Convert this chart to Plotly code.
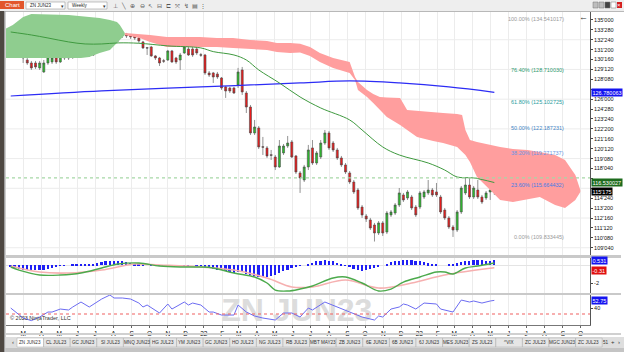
import datetime as dt
import plotly.graph_objects as go
from plotly.subplots import make_subplots

FONT = "Liberation Sans, Arial, sans-serif"

# ---------------- data (weekly ZN JUN23) ----------------
opens = [133.86, 133.52, 132.50, 131.36, 130.45, 130.11, 130.11, 129.55, 129.09, 130.11,
         130.23, 130.68, 130.23, 131.02, 130.68, 130.80, 131.02, 131.25, 131.93, 131.59,
         131.02, 131.93, 132.50, 132.95, 133.18, 133.63, 133.20, 133.29, 133.41, 133.29,
         133.18, 132.95, 132.50, 131.85, 131.93, 130.91, 130.68, 130.36, 130.45, 131.48,
         130.68, 130.45, 131.25, 131.70, 131.70, 131.70, 131.05, 131.02, 128.98, 128.98,
         128.86, 128.41, 127.39, 127.27, 127.27, 127.61, 129.32, 126.70, 125.11, 122.16,
         122.73, 120.60, 120.46, 119.70, 119.43, 118.30, 119.89, 120.68, 121.14, 119.55,
         117.62, 116.82, 118.30, 120.46, 118.75, 119.43, 121.02, 122.16, 121.02, 120.23,
         119.32, 118.53, 117.62, 116.59, 115.68, 113.75, 112.73, 112.28, 111.71, 110.80,
         111.94, 110.91, 112.85, 113.07, 113.98, 115.12, 114.78, 114.89, 113.75, 113.75,
         114.89, 115.35, 115.68, 115.46, 114.89, 113.41, 112.51, 111.48, 111.14, 113.19,
         115.35, 116.25, 114.89, 115.68, 114.89, 114.78, 115.46, 115.80]
highs = [133.98, 133.63, 132.61, 131.59, 130.68, 130.34, 130.34, 130.34, 130.45, 131.02,
         130.91, 130.91, 131.59, 131.25, 131.02, 131.48, 131.59, 132.16, 132.39, 131.82,
         132.16, 132.84, 133.18, 133.86, 133.75, 134.54, 133.52, 133.52, 133.52, 133.41,
         133.29, 133.07, 132.61, 131.93, 132.05, 131.02, 130.80, 130.57, 131.59, 131.59,
         130.80, 131.25, 132.39, 131.93, 131.93, 131.93, 131.25, 131.14, 129.20, 129.09,
         129.09, 128.52, 127.50, 127.39, 127.39, 129.55, 129.66, 126.93, 125.34, 123.64,
         122.95, 121.71, 120.68, 120.23, 119.66, 121.36, 120.91, 121.82, 121.36, 119.66,
         117.84, 118.53, 120.80, 121.36, 120.11, 121.36, 122.50, 122.39, 121.25, 120.46,
         119.55, 118.75, 117.84, 116.82, 115.91, 113.98, 112.96, 112.51, 111.94, 112.16,
         112.16, 113.30, 113.41, 114.20, 115.91, 115.35, 115.68, 115.12, 113.98, 115.57,
         115.68, 116.82, 115.91, 116.48, 115.12, 113.64, 112.73, 111.71, 113.41, 116.14,
         117.05, 117.05, 116.14, 116.82, 115.12, 115.57, 117.05, 116.14]
lows = [133.52, 132.39, 130.80, 130.11, 129.89, 129.32, 129.43, 129.32, 128.98, 129.89,
        130.00, 130.00, 130.11, 130.45, 130.45, 130.57, 130.80, 131.02, 130.80, 130.80,
        130.91, 131.70, 132.27, 132.73, 132.95, 132.95, 132.50, 132.95, 132.95, 132.84,
        132.73, 132.39, 131.70, 131.02, 130.80, 130.45, 129.77, 130.11, 130.34, 130.11,
        130.00, 129.32, 131.14, 130.91, 130.80, 131.02, 130.80, 128.75, 128.52, 127.84,
        128.30, 127.05, 126.14, 126.70, 126.59, 127.27, 126.48, 124.43, 121.93, 121.93,
        120.34, 119.66, 119.32, 119.09, 117.95, 118.19, 119.66, 120.46, 119.32, 117.50,
        115.35, 116.59, 117.95, 118.53, 118.53, 119.20, 120.80, 120.23, 120.00, 119.09,
        118.30, 117.50, 116.36, 115.23, 113.41, 112.51, 112.05, 111.14, 109.83, 110.57,
        110.46, 110.68, 112.62, 112.85, 113.75, 114.32, 114.55, 113.41, 112.62, 113.52,
        114.66, 115.12, 114.89, 114.89, 112.96, 112.28, 111.25, 110.35, 110.91, 112.96,
        115.12, 114.66, 114.66, 114.66, 114.09, 114.55, 114.55, 115.12]
closes = [133.63, 132.50, 131.25, 130.68, 130.11, 129.55, 129.66, 130.11, 130.11, 130.80,
          130.68, 130.23, 131.14, 130.68, 130.80, 131.25, 131.36, 131.93, 131.36, 131.02,
          131.93, 132.61, 132.95, 133.29, 133.52, 133.07, 133.15, 133.25, 133.18, 133.07,
          132.95, 132.61, 131.82, 131.80, 130.91, 130.68, 130.11, 130.32, 131.48, 130.23,
          130.23, 131.02, 131.93, 131.02, 131.02, 131.25, 131.00, 128.98, 128.75, 128.52,
          128.52, 127.27, 126.93, 126.93, 126.70, 129.09, 126.82, 125.11, 122.16, 122.84,
          120.57, 120.55, 119.55, 119.62, 118.30, 120.68, 120.68, 121.02, 119.43, 117.73,
          117.05, 118.30, 120.23, 118.75, 119.89, 121.02, 122.16, 120.46, 120.23, 119.32,
          118.53, 117.73, 116.59, 115.46, 113.64, 112.85, 112.39, 111.37, 110.80, 111.94,
          110.80, 113.07, 113.19, 113.98, 115.35, 114.55, 115.46, 113.64, 112.85, 115.35,
          115.46, 115.68, 115.12, 115.12, 113.19, 112.51, 111.48, 111.14, 113.19, 115.91,
          116.25, 114.89, 115.91, 114.89, 114.32, 115.35, 115.68, 115.546875]

# Ichimoku clouds (week index, top, bottom)
green_cloud_weeks = [-1.2, 0.5, 3, 5, 14, 17, 19, 21.5, 24, 25.7, 26.4, 27.6]
green_cloud_top = [134.0, 134.43, 135.34, 135.68, 135.57, 135.45, 135.34, 135.23, 135.0, 134.77, 134.43, 133.52]
green_cloud_bot = [130.68, 130.68, 130.68, 130.68, 130.68, 130.68, 130.8, 131.25, 131.59, 132.39, 132.73, 133.29]

red_cloud_weeks = [27.6, 31.2, 33.7, 37.8, 45.8, 49.9, 53.8, 57.9, 62, 64.4, 67.6, 70, 72.4, 74.8,
                   78, 82, 83.3, 84, 86.2, 87.7, 89.3, 91, 94.2, 95.9, 98.3, 102.2, 104.6, 108,
                   109.2, 110, 111.1, 112.8, 116, 118.4, 121.5, 125, 128, 131.7, 134.1, 136.6, 137.8]
red_cloud_top = [133.52, 133.41, 133.29, 133.07, 133.07, 132.95, 132.95, 132.73, 132.61, 132.39,
                 132.39, 132.3, 131.93, 131.25, 130.68, 130.23, 128.52, 127.95, 127.05, 126.59,
                 126.25, 126.2, 126.14, 124.77, 124.66, 124.54, 124.43, 124.32, 124.2, 122.5,
                 121.36, 121.14, 120.8, 120.57, 120.34, 120.23, 120.0, 119.66, 119.09, 117.39, 115.68]
red_cloud_bot = [133.29, 132.95, 132.5, 131.93, 131.93, 131.93, 131.82, 131.7, 131.59, 131.36,
                 131.25, 131.3, 130.9, 130.23, 129.55, 128.98, 128.18, 127.05, 126.25, 125.57,
                 124.77, 123.98, 123.07, 122.5, 121.71, 121.25, 121.02, 120.57, 120.0, 119.66,
                 118.87, 117.16, 115.68, 114.55, 114.32, 114.66, 114.89, 113.98, 113.64, 114.55, 115.46]

sma_weeks = [0, 5, 9, 14, 18, 22, 26, 31, 38, 46, 49, 54, 57, 60, 65, 70, 75, 82, 85, 90, 94, 101, 105, 108, 112, 117]
sma_vals = [133.63, 133.29, 132.95, 132.5, 132.27, 132.27, 132.39, 132.35, 132.05, 131.82, 131.4, 131.02,
            130.45, 129.32, 127.84, 126.25, 125.0, 123.64, 122.5, 120.57, 119.66, 118.75, 117.95, 117.16,
            117.05, 116.53]

long_ma_weeks = [0, 22, 46, 70, 82, 94, 106, 117]
long_ma_vals = [126.36, 126.93, 127.39, 127.84, 128.07, 127.84, 127.39, 126.78]

hline_level = 117.05

fib_pcts = ["100.00%", "76.40%", "61.80%", "50.00%", "38.20%", "23.60%", "0.00%"]
fib_levels = [134.541017, 128.710030, 125.102725, 122.187231, 119.271737, 115.664432, 109.833445]
fib_colors = ["#9a9a9a", "#2e9a6e", "#1f9c9c", "#3f84c4", "#6a95e6", "#3f7de6", "#9a9a9a"]

macd_weeks = [0, 2, 7, 12, 17, 22, 26, 31, 36, 41, 46, 49, 54, 59, 62, 64, 67, 70, 73, 78, 81, 85,
              89, 92, 95, 99, 103, 105, 107, 110, 113, 117]
macd_vals = [-0.22, -0.56, -1.11, -1.11, -0.89, -0.33, 0.11, 0.22, -0.11, -0.22, -0.22, -0.33, -0.89,
             -1.33, -2.0, -2.78, -2.89, -2.67, -2.33, -1.44, -1.33, -2.0, -2.89, -2.67, -1.89, -1.33,
             -0.78, -0.78, -1.0, -0.33, -0.11, 0.22]
signal_weeks = [0, 7, 14, 22, 30, 36, 46, 54, 62, 68, 73, 81, 89, 97, 105, 117]
signal_vals = [-0.11, -0.78, -0.89, -0.56, 0.11, 0.0, -0.22, -0.56, -1.44, -2.44, -2.44, -1.67,
               -2.56, -2.0, -1.11, -0.31]
hist_vals = [-0.2, -0.3, -0.4, -0.5, -0.55, -0.6, -0.6, -0.55, -0.5, -0.4,
             -0.3, -0.2, -0.1, -0.05, 0.0, 0.05, 0.05, 0.05, 0.05, 0.1,
             0.15, 0.2, 0.3, 0.4, 0.45, 0.5, 0.5, 0.45, 0.35, 0.25,
             0.15, 0.1, 0.05, 0.0, -0.05, -0.05, -0.05, -0.05, 0.0, 0.0,
             0.0, -0.05, -0.05, -0.05, 0.0, -0.05, -0.1, -0.25, -0.35, -0.45,
             -0.5, -0.6, -0.7, -0.8, -0.85, -0.75, -0.8, -0.95, -1.1, -1.2,
             -1.3, -1.35, -1.3, -1.2, -1.1, -0.9, -0.7, -0.5, -0.35, -0.2,
             -0.1, 0.0, 0.1, 0.25, 0.4, 0.5, 0.55, 0.5, 0.4, 0.25,
             0.05, -0.1, -0.25, -0.4, -0.55, -0.65, -0.6, -0.45, -0.3, -0.15,
             0.0, 0.15, 0.3, 0.4, 0.5, 0.55, 0.6, 0.55, 0.5, 0.4,
             0.3, 0.2, 0.1, 0.05, 0.0, 0.0, 0.05, 0.1, 0.2, 0.3,
             0.4, 0.5, 0.55, 0.55, 0.55, 0.5, 0.5, 0.531]
macd_last, signal_last, hist_last = 0.221, -0.31, 0.531

rsi_weeks = [0, 2, 3, 5, 7, 9, 10, 12, 14, 15, 17, 19, 22, 24, 25, 27, 29, 31, 32, 33, 36, 38, 39,
             42, 43, 44, 46, 48, 49, 51, 54, 55, 57, 59, 61, 64, 66, 68, 70, 72, 73, 76, 79, 85, 88,
             89, 90, 92, 94, 95, 96, 98, 100, 103, 104, 107, 109, 111, 112, 114, 116, 117]
rsi_vals = [40, 28.3, 23.3, 19, 25, 33.3, 33.3, 38.3, 36.7, 41.7, 50, 41.7, 55, 61.7, 56.7, 56.7, 55,
            48.3, 41.7, 45, 31.7, 46.7, 38.3, 50, 45, 48.3, 45, 33.3, 33.3, 28.3, 28.3, 45, 33.3,
            26.7, 23.3, 20, 31.7, 31.7, 25, 40, 36.7, 50, 41.7, 25, 20, 26.7, 25, 38.3, 41.7, 46.7,
            45, 38.3, 48.3, 46.7, 38.3, 33.3, 53.3, 50, 51.7, 48.3, 51.7, 52.75]
rsi_level = 30

month_labels = ["M", "A", "M", "J", "J", "A", "S", "O", "N", "D", "22", "F", "M", "A", "M", "J",
                "J", "A", "S", "O", "N", "D", "23", "F", "M", "A", "M", "J", "J", "A", "S", "O"]

tab_names = ["ZN JUN23", "CL JUL23", "GC JUN23", "SI JUL23", "MNQ JUN23", "HG JUL23", "YM JUN23",
             "GC JUN23", "HO JUL23", "NG JUL23", "RB JUL23", "MBT MAY23", "ZB JUN23", "6E JUN23",
             "6B JUN23", "6J JUN23", "MES JUN23", "ZS JUL23", "^VIX", "ZC JUL23", "MGC JUN23",
             "ZC JUL23"]

# ---------------- helpers ----------------
START = dt.datetime(2021, 2, 8)


def wdate(i):
    return START + dt.timedelta(days=7 * i)


def fmt32(v):
    whole = int(v + 1e-9)
    tenths = int(round((v - whole) * 320))
    return f"{whole}'{tenths:03d}"


dates = [wdate(i) for i in range(len(opens))]

L, R, T, B = 6, 590, 12, 325


def px(x):
    return (x - L) / (R - L)


def py(y):
    return (B - y) / (B - T)


fig = make_subplots(rows=3, cols=1, shared_xaxes=True, vertical_spacing=0.0)

# clouds
fig.add_trace(go.Scatter(x=[wdate(w) for w in green_cloud_weeks], y=green_cloud_bot, mode="lines",
                         line=dict(width=0), hoverinfo="skip", showlegend=False), 1, 1)
fig.add_trace(go.Scatter(x=[wdate(w) for w in green_cloud_weeks], y=green_cloud_top, mode="lines",
                         line=dict(width=0), fill="tonexty", fillcolor="#8fcd8f",
                         hoverinfo="skip", showlegend=False), 1, 1)
fig.add_trace(go.Scatter(x=[wdate(w) for w in red_cloud_weeks], y=red_cloud_bot, mode="lines",
                         line=dict(width=0), hoverinfo="skip", showlegend=False), 1, 1)
fig.add_trace(go.Scatter(x=[wdate(w) for w in red_cloud_weeks], y=red_cloud_top, mode="lines",
                         line=dict(width=0), fill="tonexty", fillcolor="#ff9e9e",
                         hoverinfo="skip", showlegend=False), 1, 1)
# moving averages
fig.add_trace(go.Scatter(x=[wdate(w) for w in long_ma_weeks], y=long_ma_vals, mode="lines",
                         line=dict(color="#2c2cf5", width=1.2, shape="spline"), showlegend=False), 1, 1)
fig.add_trace(go.Scatter(x=[wdate(w) for w in sma_weeks], y=sma_vals, mode="lines",
                         line=dict(color="#3f9a3f", width=1, shape="spline"), showlegend=False), 1, 1)
# candles
fig.add_trace(go.Candlestick(x=dates, open=opens, high=highs, low=lows, close=closes,
                             increasing=dict(line=dict(color="#4a4a4a", width=0.6), fillcolor="#2dbf2d"),
                             decreasing=dict(line=dict(color="#4a4a4a", width=0.6), fillcolor="#ee1b1b"),
                             showlegend=False), 1, 1)

# MACD panel
fig.add_trace(go.Bar(x=dates, y=hist_vals, marker=dict(color="#1f1ff5", line=dict(width=0)),
                     width=7 * 24 * 3600 * 1000 * 0.42, showlegend=False), 2, 1)
fig.add_trace(go.Scatter(x=[wdate(w) for w in signal_weeks], y=signal_vals, mode="lines",
                         line=dict(color="#f6b0b0", width=1.6, shape="spline"), showlegend=False), 2, 1)
fig.add_trace(go.Scatter(x=[wdate(w) for w in macd_weeks], y=macd_vals, mode="lines",
                         line=dict(color="#4caa4c", width=1.4, shape="spline"), showlegend=False), 2, 1)

# RSI panel (watermark first so the line sits on top)
fig.add_trace(go.Scatter(x=[wdate(69.2)], y=[31.7], mode="text", text=["ZN JUN23"],
                         textfont=dict(size=32, color="#dcdcdc", family=FONT, weight="bold"),
                         cliponaxis=False, hoverinfo="skip", showlegend=False), 3, 1)
fig.add_trace(go.Scatter(x=[wdate(w) for w in rsi_weeks], y=rsi_vals, mode="lines",
                         line=dict(color="#6c6cf2", width=1), showlegend=False), 3, 1)

# ---------------- axes ----------------
tickdates = []
y_, m_ = 2021, 3
for _ in month_labels:
    tickdates.append(dt.datetime(y_, m_, 1))
    m_ += 1
    if m_ > 12:
        m_, y_ = 1, y_ + 1

xrange_ = [dt.datetime(2021, 1, 31), dt.datetime(2023, 10, 17)]
for ax in ["xaxis", "xaxis2", "xaxis3"]:
    fig.layout[ax].update(range=xrange_, tickmode="array", tickvals=tickdates, ticktext=month_labels,
                          showgrid=True, gridcolor="#ececec", gridwidth=1, zeroline=False,
                          rangeslider=dict(visible=False), showticklabels=False, ticks="")
fig.layout.xaxis3.update(showticklabels=True, ticks="outside", ticklen=2, tickcolor="#666",
                         tickfont=dict(size=6.5, color="#111", family=FONT),
                         showline=True, linecolor="#777", linewidth=1)

price_ticks = [135 - 1.125 * k for k in range(24)]
covered = {127.125, 117.0, 115.875}   # labels hidden under the value flags
price_text = ["" if v in covered else fmt32(v) for v in price_ticks]
fig.layout.yaxis.update(domain=[py(255), 1], side="right", range=[108.3, 135.9], tickmode="array",
                        tickvals=price_ticks, ticktext=price_text,
                        showgrid=False, zeroline=False, ticks="outside", ticklen=2, tickcolor="#444",
                        tickfont=dict(size=5.5, color="#111", family=FONT),
                        showline=True, linecolor="#555", linewidth=1)
fig.layout.yaxis2.update(domain=[py(293), py(258)], side="right", range=[-3.11, 0.78], tickmode="array",
                         tickvals=[-2], ticktext=["-2"], showgrid=False, zeroline=True,
                         zerolinecolor="#e4e4e4", zerolinewidth=1, ticks="outside", ticklen=2,
                         tickfont=dict(size=5.5, color="#111", family=FONT),
                         showline=True, linecolor="#555", linewidth=1)
fig.layout.yaxis3.update(domain=[0, py(295)], side="right", range=[11.7, 61.7], tickmode="array",
                         tickvals=[40], ticktext=["40"], showgrid=False, zeroline=False,
                         ticks="outside", ticklen=2,
                         tickfont=dict(size=5.5, color="#111", family=FONT),
                         showline=True, linecolor="#555", linewidth=1)

shapes = []
annots = []

# price grid (every third price tick)
for lvl in price_ticks[2::3]:
    shapes.append(dict(type="line", xref="x domain", yref="y", x0=0, x1=1, y0=lvl, y1=lvl,
                       line=dict(color="#ececec", width=1), layer="below"))
shapes.append(dict(type="line", xref="x domain", yref="y", x0=0, x1=1, y0=hline_level, y1=hline_level,
                   line=dict(color="#a6d8a6", width=1.2, dash="dot"), layer="above"))
shapes.append(dict(type="line", xref="x3 domain", yref="y3", x0=0, x1=1, y0=rsi_level, y1=rsi_level,
                   line=dict(color="#f06060", width=1.2, dash="dot"), layer="above"))


def rect(x0, y0, x1, y1, fill, line=None, lw=0):
    shapes.append(dict(type="rect", xref="paper", yref="paper", x0=px(x0), x1=px(x1), y0=py(y1),
                       y1=py(y0), fillcolor=fill, line=dict(color=line or fill, width=lw), layer="above"))


def text(x, y, s, size=6, color="#000", xanchor="left", **kw):
    annots.append(dict(xref="paper", yref="paper", x=px(x), y=py(y), text=s, showarrow=False,
                       xanchor=xanchor, yanchor="middle", font=dict(size=size, color=color, family=FONT),
                       **kw))


# panel separators
rect(6, 255, 621, 258, "#c9c9c9")
rect(6, 293, 621, 295, "#c9c9c9")
rect(6, 333, 621, 335, "#d0d0d0")

# fib labels
for pct, lvl, col in zip(fib_pcts, fib_levels, fib_colors):
    annots.append(dict(xref="paper", yref="y", x=px(566), y=lvl, text=f"{pct} ({lvl:.6f})",
                       showarrow=False, xanchor="right", yanchor="bottom",
                       font=dict(size=5.5, color=col, family=FONT)))


def marker(yref, val, label, bg):
    annots.append(dict(xref="paper", yref=yref, x=1, y=val, text=label, showarrow=False,
                       xanchor="left", yanchor="middle", xshift=1, bgcolor=bg, borderpad=0.5,
                       font=dict(size=5.5, color="white", family=FONT)))


marker("y", long_ma_vals[-1], "126.780063", "#1414f0")
marker("y", sma_vals[-1], "116.530027", "#1d6b1d")
marker("y", closes[-1], fmt32(closes[-1]), "#000000")
marker("y2", hist_last, f"{hist_last:.3f}", "#1414f0")
marker("y2", signal_last - 0.25, f"{signal_last:.2f}", "#e01010")
marker("y3", 52.75, "52.75", "#1414f0")

text(583, 17, "←", size=9, color="#333", xanchor="center")
text(8, 318, "© 2023 NinjaTrader, LLC", size=5.5, color="#333")

# window chrome: toolbar
rect(-10, 0, 634, 11, "#eeeeee")
rect(-10, 11, 634, 12, "#b8b8b8")
rect(0, 1, 24, 9, "#e2562c")
text(12, 5, "Chart", size=6, color="white", xanchor="center")
rect(26, 2, 65, 9, "#ffffff", "#9a9a9a", 0.6)
text(28, 5.5, "ZN JUN23", size=4.5, color="#222")
text(62, 5.5, "▾", size=5, color="#333", xanchor="center")
rect(68, 2, 107, 9, "#ffffff", "#9a9a9a", 0.6)
text(70, 5.5, "Weekly", size=4.5, color="#222")
text(104, 5.5, "▾", size=5, color="#333", xanchor="center")
for gx, g in zip([115, 123, 132, 142, 150, 159, 168, 177, 186, 195, 203],
                 ["⊥", "╲", "⊕", "⊖", "↖", "⊟", "⊏", "⤧", "↯", "▤", "⋮"]):
    text(gx, 5.5, g, size=6, color="#555", xanchor="center")
for bx, col in zip([593, 599, 605, 611], ["#bdbdbd", "#bdbdbd", "#444444", "#ffffff"]):
    rect(bx, 2, bx + 5, 8, col, "#777", 0.5)
rect(617, 2, 622, 8, "#d42020")
text(619.5, 5, "×", size=6, color="white", xanchor="center")

# left frame / desktop strip
rect(-10, 11, 4, 360, "#4e4842")
rect(4, 11, 5.5, 352, "#a0a0a0")

# tab bar
rect(5.5, 337, 624, 348, "#dedede")
rect(5.5, 348, 624, 360, "#c4c4c4")
text(13, 342.5, "‹", size=6, color="#333", xanchor="center")
tx = 17.0
for k, name in enumerate(tab_names):
    w = 26.6
    rect(tx, 338, tx + w, 347, "#ffffff" if k == 0 else "#e6e6e6", "#a8a8a8", 0.5)
    text(tx + w / 2, 342.5, name, size=4.6, color="#333", xanchor="center")
    tx += w
text(606, 342.5, "51", size=4.6, color="#333", xanchor="center")
text(613, 342.5, "+", size=6, color="#333", xanchor="center")
text(619, 342.5, "›", size=6, color="#333", xanchor="center")

fig.update_layout(width=624, height=352, margin=dict(l=L, r=624 - R, t=T, b=352 - B),
                  paper_bgcolor="white", plot_bgcolor="white", showlegend=False,
                  boxgap=0.3, bargap=0, shapes=shapes, annotations=annots,
                  font=dict(family=FONT), hovermode=False)

fig.write_html("out.html")
